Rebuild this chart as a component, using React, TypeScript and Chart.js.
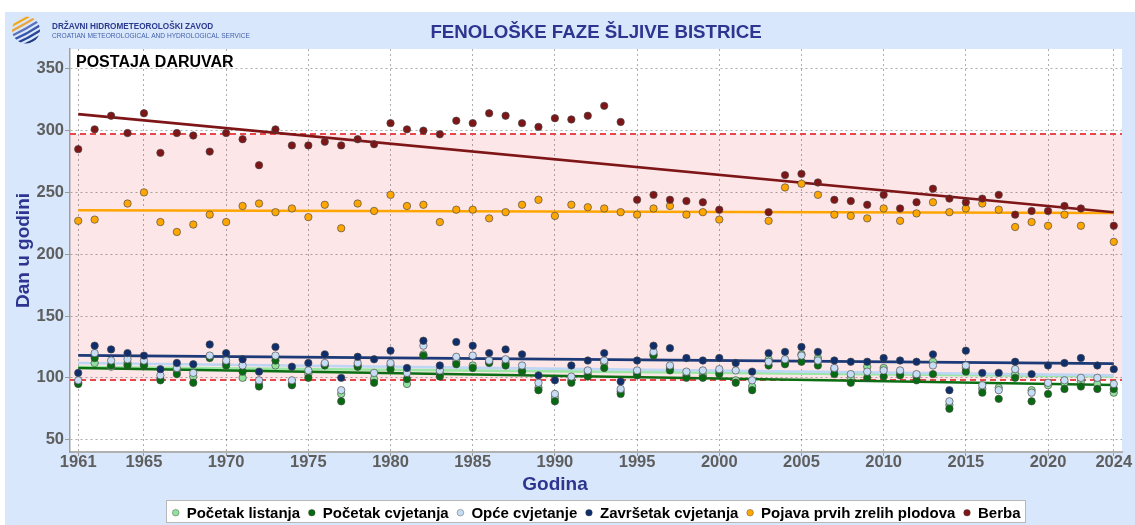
import React, { useEffect, useRef } from 'react';
import { Chart, registerables } from 'chart.js';

Chart.register(...registerables);

const W = 1135;
const H = 525;
const FONT = '"Liberation Sans", Arial, Helvetica, sans-serif';

const years = [
  1961, 1962, 1963, 1964, 1965, 1966, 1967, 1968, 1969, 1970,
  1971, 1972, 1973, 1974, 1975, 1976, 1977, 1978, 1979, 1980,
  1981, 1982, 1983, 1984, 1985, 1986, 1987, 1988, 1989, 1990,
  1991, 1992, 1993, 1994, 1995, 1996, 1997, 1998, 1999, 2000,
  2001, 2002, 2003, 2004, 2005, 2006, 2007, 2008, 2009, 2010,
  2011, 2012, 2013, 2014, 2015, 2016, 2017, 2018, 2019, 2020,
  2021, 2022, 2023, 2024,
];

const pocetakListanja = [
  96, 112, 109, 112, 111, 99, 106, 101, 117, 112,
  100, 95, 110, 95, 103, 111, 87, 110, 99, 110,
  95, 119, 103, 113, 110, 113, 112, 106, 92, 84,
  98, 103, 112, 89, 104, 119, 108, 102, 102, 105,
  98, 93, 115, 113, 119, 116, 107, 100, 109, 108,
  104, 101, 113, 78, 108, 91, 92, 103, 90, 94,
  96, 97, 95, 88,
];

const pocetakCvjetanja = [
  95, 116, 110, 110, 110, 98, 103, 96, 116, 110,
  105, 93, 114, 94, 100, 110, 81, 109, 96, 107,
  99, 118, 101, 111, 108, 112, 110, 105, 90, 81,
  96, 101, 108, 87, 102, 118, 106, 100, 100, 103,
  96, 90, 110, 111, 113, 110, 103, 96, 100, 101,
  102, 98, 103, 75, 105, 88, 83, 100, 81, 87,
  91, 93, 91, 91,
];

const opceCvjetanje = [
  98, 120, 114, 115, 114, 102, 108, 104, 118, 114,
  110, 98, 118, 98, 106, 112, 90, 112, 104, 112,
  104, 126, 106, 117, 118, 114, 115, 110, 96, 87,
  101, 106, 114, 91, 106, 121, 110, 105, 106, 107,
  106, 98, 113, 115, 118, 114, 108, 103, 105, 106,
  106, 103, 110, 81, 110, 94, 90, 107, 88, 96,
  98, 100, 100, 95,
];

const zavrsetakCvjetanja = [
  104, 126, 123, 120, 118, 107, 112, 111, 127, 120,
  115, 105, 125, 109, 112, 119, 100, 117, 115, 122,
  108, 130, 110, 129, 126, 120, 123, 119, 102, 98,
  110, 114, 120, 97, 114, 126, 124, 116, 114, 116,
  112, 105, 120, 121, 125, 121, 114, 113, 113, 116,
  114, 113, 119, 90, 122, 104, 104, 113, 103, 110,
  112, 116, 110, 107,
];

const pojavaPlodova = [
  227, 228, null, 241, 250, 226, 218, 224, 232, 226,
  239, 241, 234, 237, 230, 240, 221, 241, 235, 248,
  239, 240, 226, 236, 236, 229, 234, 240, 244, 231,
  240, 238, 237, 234, 232, 237, 239, 232, 234, 228,
  null, null, 227, 254, 257, 248, 232, 231, 229, 237,
  227, 233, 242, 234, 237, 241, 236, 222, 226, 223,
  232, 223, null, 210,
];

const berba = [
  285, 301, 312, 298, 314, 282, 298, 296, 283, 298,
  293, 272, 301, 288, 288, 291, 288, 293, 289, 306,
  301, 300, 297, 308, 306, 314, 312, 306, 303, 310,
  309, 312, 320, 307, 244, 248, 244, 243, 242, 236,
  null, null, 234, 264, 265, 258, 244, 243, 240, 248,
  237, 242, 253, 245, 242, 245, 248, 232, 235, 235,
  239, 237, null, 223,
];

const seriesNames = [
  'Početak listanja',
  'Početak cvjetanja',
  'Opće cvjetanje',
  'Završetak cvjetanja',
  'Pojava prvih zrelih plodova',
  'Berba',
];
const seriesValues = [pocetakListanja, pocetakCvjetanja, opceCvjetanje, zavrsetakCvjetanja, pojavaPlodova, berba];

// linear trend values read at 1961 and at 2024
const trendYears = [1961, 2024];
const trendStart = [108.8, 108.0, 112.0, 118.2, 235.5, 313.3];
const trendEnd = [101.2, 94.2, 102.0, 111.5, 233.3, 233.9];

// reference band (dashed red lines)
const bandLow = 98;
const bandHigh = 297;

const xTicks = [1961, 1965, 1970, 1975, 1980, 1985, 1990, 1995, 2000, 2005, 2010, 2015, 2020, 2024];
const yTicks = [50, 100, 150, 200, 250, 300, 350];

const pointColors = ['#8fe29b', '#066b10', '#c7ddf6', '#0f2e6c', '#ffa600', '#7e1517'];
const lineColors = ['#9ae6a4', '#0b6e12', '#bcd6f3', '#1b3a77', '#ffa500', '#7e1517'];
const NAVY = '#2d3590';

const decorPlugin = {
  id: 'decor',
  beforeDraw(chart: any) {
    const { ctx, chartArea: a, scales } = chart;
    const y = scales.y;
    ctx.save();
    ctx.fillStyle = '#ffffff';
    ctx.fillRect(0, 0, W, H);
    ctx.fillStyle = '#d8e7fb';
    ctx.fillRect(5, 12, W - 5, H - 12);
    ctx.fillStyle = '#ffffff';
    ctx.fillRect(a.left, a.top, a.right - a.left, a.bottom - a.top);
    const yh = y.getPixelForValue(bandHigh);
    const yl = y.getPixelForValue(bandLow);
    ctx.fillStyle = '#fde6e8';
    ctx.fillRect(a.left, yh, a.right - a.left, yl - yh);

    // logo
    ctx.save();
    ctx.beginPath();
    ctx.ellipse(26, 30, 14, 13.5, 0, 0, Math.PI * 2);
    ctx.clip();
    const stripeCols = ['#f6b800', '#f3a91c', '#eaa43a', '#5b74bd', '#3a56a8', '#2a4595', '#213a85', '#1d3479'];
    ctx.lineCap = 'round';
    for (let k = 0; k < stripeCols.length; k++) {
      const off = -15 + k * 4.3;
      ctx.strokeStyle = stripeCols[k];
      ctx.lineWidth = 2.3;
      ctx.beginPath();
      ctx.moveTo(26 - 18 + off * 0.6, 30 + 10 + off * 0.8);
      ctx.quadraticCurveTo(26 + off * 0.7, 30 + off * 0.9 + 2, 26 + 18 + off * 0.6, 30 - 10 + off * 0.8);
      ctx.stroke();
    }
    ctx.restore();

    ctx.textBaseline = 'alphabetic';
    ctx.textAlign = 'left';
    ctx.fillStyle = '#2b3a8f';
    ctx.font = `bold 8.2px ${FONT}`;
    ctx.fillText('DRŽAVNI HIDROMETEOROLOŠKI ZAVOD', 52, 29.3);
    ctx.fillStyle = '#4562ad';
    ctx.font = `6.6px ${FONT}`;
    ctx.fillText('CROATIAN METEOROLOGICAL AND HYDROLOGICAL SERVICE', 52, 37.7);
    ctx.restore();
  },
  beforeDatasetsDraw(chart: any) {
    const { ctx, chartArea: a, scales } = chart;
    const y = scales.y;
    ctx.save();
    ctx.strokeStyle = '#e8474c';
    ctx.lineWidth = 2;
    ctx.setLineDash([6, 4]);
    [bandHigh, bandLow].forEach((v) => {
      const py = Math.round(y.getPixelForValue(v));
      ctx.beginPath();
      ctx.moveTo(a.left, py);
      ctx.lineTo(a.right, py);
      ctx.stroke();
    });
    ctx.restore();
  },
  afterDraw(chart: any) {
    const { ctx, chartArea: a } = chart;
    ctx.save();
    // title
    ctx.fillStyle = NAVY;
    ctx.textAlign = 'center';
    ctx.textBaseline = 'alphabetic';
    ctx.font = `bold 18.7px ${FONT}`;
    ctx.fillText('FENOLOŠKE FAZE ŠLJIVE BISTRICE', 596, 38);
    // station
    ctx.textAlign = 'left';
    ctx.fillStyle = '#000000';
    ctx.font = `bold 16px ${FONT}`;
    ctx.fillText('POSTAJA DARUVAR', 76, 67);
    // axis titles
    ctx.fillStyle = NAVY;
    ctx.font = `bold 19px ${FONT}`;
    ctx.textAlign = 'center';
    ctx.fillText('Godina', 555, 490);
    ctx.save();
    ctx.translate(29, (a.top + a.bottom) / 2);
    ctx.rotate(-Math.PI / 2);
    ctx.fillText('Dan u godini', 0, 0);
    ctx.restore();

    // legend
    const bx = 166, by = 500, bw = 860, bh = 23;
    ctx.fillStyle = '#ffffff';
    ctx.fillRect(bx, by, bw, bh);
    ctx.strokeStyle = '#b8b8b8';
    ctx.lineWidth = 1;
    ctx.strokeRect(bx + 0.5, by + 0.5, bw - 1, bh - 1);
    ctx.font = `bold 15px ${FONT}`;
    ctx.textAlign = 'left';
    let x = 175.7;
    seriesNames.forEach((n, i) => {
      ctx.beginPath();
      ctx.arc(x, 512.7, 3.3, 0, Math.PI * 2);
      ctx.fillStyle = pointColors[i];
      ctx.fill();
      ctx.strokeStyle = 'rgba(60,60,60,0.5)';
      ctx.lineWidth = 0.8;
      ctx.stroke();
      ctx.fillStyle = '#000000';
      ctx.fillText(n, x + 11, 518.3);
      x += 11 + ctx.measureText(n).width + 11.7;
    });
    ctx.restore();
  },
};

export default function App() {
  const ref = useRef<HTMLCanvasElement | null>(null);

  useEffect(() => {
    const canvas = ref.current;
    if (!canvas) return;

    const pointSets = seriesValues.map((vals, i) => ({
      type: 'scatter' as const,
      label: seriesNames[i],
      data: years
        .map((yr, j) => (vals[j] == null ? null : { x: yr, y: vals[j] as number }))
        .filter((p) => p !== null),
      backgroundColor: pointColors[i],
      borderColor: 'rgba(70,70,70,0.65)',
      borderWidth: 1,
      pointRadius: 3.7,
      pointHoverRadius: 3.7,
      order: 10 - i,
    }));

    const trendSets = seriesValues.map((_, i) => ({
      type: 'line' as const,
      label: seriesNames[i] + ' trend',
      data: [
        { x: trendYears[0], y: trendStart[i] },
        { x: trendYears[1], y: trendEnd[i] },
      ],
      borderColor: lineColors[i],
      backgroundColor: lineColors[i],
      borderWidth: 2.6,
      pointRadius: 0,
      fill: false,
      tension: 0,
      order: 30 - i,
    }));

    const gridCommon = {
      color: 'rgba(0,0,0,0.32)',
      lineWidth: 1,
      drawTicks: true,
      tickLength: 5,
      tickColor: '#9a9a9a',
      tickWidth: 1,
    };

    const chart = new Chart(canvas, {
      type: 'scatter',
      data: { datasets: [...trendSets, ...pointSets] as any },
      plugins: [decorPlugin],
      options: {
        animation: false,
        responsive: false,
        devicePixelRatio: 1,
        events: [],
        layout: { padding: { left: 0, top: 49, right: 13, bottom: 0 } },
        plugins: {
          legend: { display: false },
          title: { display: false },
          tooltip: { enabled: false },
        },
        scales: {
          x: {
            type: 'linear',
            min: 1960.5,
            max: 2024.5,
            afterFit: (s: any) => {
              s.height = 73;
            },
            afterBuildTicks: (s: any) => {
              s.ticks = xTicks.map((v) => ({ value: v }));
            },
            ticks: {
              autoSkip: false,
              maxRotation: 0,
              padding: -3,
              color: '#5e5e5e',
              font: { family: FONT, size: 16.5, weight: 'bold' },
              callback: (v: any) => String(v),
            },
            grid: { ...gridCommon, tickLength: 4 },
            border: { display: true, color: '#b0b0b0', width: 2, dash: [2, 3] },
          },
          y: {
            type: 'linear',
            min: 40,
            max: 366,
            afterFit: (s: any) => {
              s.width = 70;
            },
            afterBuildTicks: (s: any) => {
              s.ticks = yTicks.map((v) => ({ value: v }));
            },
            ticks: {
              autoSkip: false,
              padding: 1,
              color: '#5e5e5e',
              font: { family: FONT, size: 16.5, weight: 'bold' },
              callback: (v: any) => String(v),
            },
            grid: gridCommon,
            border: { display: true, color: '#a0a0a0', width: 1.5, dash: [2, 3] },
          },
        },
      } as any,
    });

    return () => {
      chart.destroy();
    };
  }, []);

  return (
    <div style={{ position: 'absolute', left: 0, top: 0, width: W, height: H }}>
      <canvas ref={ref} width={W} height={H} style={{ display: 'block', width: W, height: H }} />
    </div>
  );
}
